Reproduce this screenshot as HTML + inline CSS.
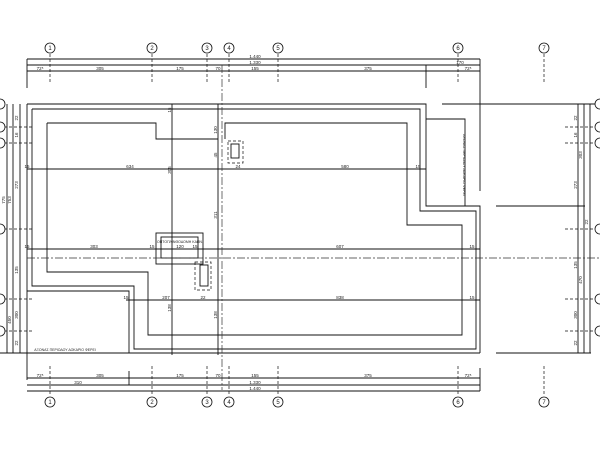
<!DOCTYPE html>
<html><head><style>body{margin:0;background:#fff}svg{display:block}text{font-family:"Liberation Sans",sans-serif;fill:#222}</style></head><body>
<svg width="600" height="450" viewBox="0 0 600 450" xmlns="http://www.w3.org/2000/svg">
<g stroke="#111" stroke-width="0.9" fill="none">
<!-- top dims -->
<line x1="27" y1="59" x2="480" y2="59"/><line x1="27" y1="65" x2="480" y2="65"/><line x1="27" y1="71" x2="480" y2="71"/>
<line x1="27" y1="59" x2="27" y2="88"/><line x1="426" y1="65" x2="426" y2="88"/><line x1="480" y1="59" x2="480" y2="191"/>
<!-- bottom dims -->
<line x1="27" y1="378" x2="480" y2="378"/><line x1="27" y1="385" x2="480" y2="385"/><line x1="27" y1="391" x2="480" y2="391"/>
<line x1="129" y1="371" x2="129" y2="385"/><line x1="480" y1="368" x2="480" y2="391"/>
<!-- outlines -->
<polyline points="27,104 426,104 426,206 480,206 480,353"/>
<polyline points="32,109 32,286 134,286 134,349 476,349 476,211 420,211 420,109 32,109"/>
<polyline points="47,123 156,123 156,139 218,139"/>
<polyline points="225,139 225,123 407,123 407,225 462,225 462,335 148,335 148,272 47,272 47,123"/>
<polyline points="27,291 129,291 129,353"/>
<line x1="0" y1="353" x2="480" y2="353"/>
<polyline points="426,119 465,119 465,206"/>
<line x1="442" y1="104" x2="597" y2="104"/>
<line x1="496" y1="206" x2="585" y2="206"/><line x1="496" y1="353" x2="591" y2="353"/>
<line x1="578" y1="104" x2="578" y2="353"/><line x1="584" y1="104" x2="584" y2="353"/><line x1="590" y1="104" x2="590" y2="353"/>
<!-- left dim lines -->
<line x1="7" y1="104" x2="7" y2="353"/><line x1="13" y1="104" x2="13" y2="353"/><line x1="20" y1="104" x2="20" y2="353"/><line x1="27" y1="104" x2="27" y2="380"/>
<!-- inner dims -->
<line x1="27" y1="169" x2="426" y2="169"/><line x1="27" y1="249" x2="480" y2="249"/><line x1="126" y1="300" x2="480" y2="300"/>
<line x1="172" y1="104" x2="172" y2="355"/><line x1="218" y1="104" x2="218" y2="355"/>
<!-- boxes -->
<rect x="156" y="233" width="47" height="31"/><rect x="161" y="237" width="37" height="21"/>
<rect x="200" y="265" width="8" height="21"/><rect x="231" y="144" width="8" height="14"/>
</g>
<g stroke="#111" stroke-width="0.7" fill="none" stroke-dasharray="3,2">
<rect x="195" y="262" width="16" height="28"/><rect x="228" y="141" width="15" height="22"/>
<line x1="50" y1="54" x2="50" y2="83"/><line x1="152" y1="54" x2="152" y2="83"/><line x1="207" y1="54" x2="207" y2="83"/><line x1="229" y1="54" x2="229" y2="83"/><line x1="278" y1="54" x2="278" y2="83"/><line x1="458" y1="54" x2="458" y2="83"/><line x1="544" y1="54" x2="544" y2="83"/>
<line x1="50" y1="366" x2="50" y2="396"/><line x1="152" y1="366" x2="152" y2="396"/><line x1="207" y1="366" x2="207" y2="396"/><line x1="229" y1="366" x2="229" y2="396"/><line x1="278" y1="366" x2="278" y2="396"/><line x1="458" y1="366" x2="458" y2="396"/><line x1="544" y1="366" x2="544" y2="396"/>
<line x1="4" y1="127" x2="34" y2="127"/><line x1="4" y1="143" x2="34" y2="143"/><line x1="4" y1="229" x2="34" y2="229"/><line x1="4" y1="299" x2="34" y2="299"/><line x1="4" y1="331" x2="34" y2="331"/>
<line x1="565" y1="127" x2="596" y2="127"/><line x1="565" y1="143" x2="596" y2="143"/><line x1="565" y1="229" x2="596" y2="229"/><line x1="565" y1="299" x2="596" y2="299"/><line x1="565" y1="331" x2="596" y2="331"/>
</g>
<g stroke="#333" stroke-width="0.7" stroke-dasharray="8,2,2,2">
<line x1="27" y1="258" x2="600" y2="258"/><line x1="222" y1="65" x2="222" y2="390"/>
</g>
<g stroke="#111" stroke-width="0.8" fill="#fff">
<circle cx="50" cy="48" r="5"/><circle cx="152" cy="48" r="5"/><circle cx="207" cy="48" r="5"/><circle cx="229" cy="48" r="5"/><circle cx="278" cy="48" r="5"/><circle cx="458" cy="48" r="5"/><circle cx="544" cy="48" r="5"/>
<circle cx="50" cy="402" r="5"/><circle cx="152" cy="402" r="5"/><circle cx="207" cy="402" r="5"/><circle cx="229" cy="402" r="5"/><circle cx="278" cy="402" r="5"/><circle cx="458" cy="402" r="5"/><circle cx="544" cy="402" r="5"/>
<circle cx="0" cy="104" r="5"/><circle cx="0" cy="127" r="5"/><circle cx="0" cy="143" r="5"/><circle cx="0" cy="229" r="5"/><circle cx="0" cy="299" r="5"/><circle cx="0" cy="331" r="5"/>
<circle cx="600" cy="104" r="5"/><circle cx="600" cy="127" r="5"/><circle cx="600" cy="143" r="5"/><circle cx="600" cy="229" r="5"/><circle cx="600" cy="299" r="5"/><circle cx="600" cy="331" r="5"/>
</g>
<g font-size="6" text-anchor="middle">
<text x="50" y="50">1</text><text x="152" y="50">2</text><text x="207" y="50">3</text><text x="229" y="50">4</text><text x="278" y="50">5</text><text x="458" y="50">6</text><text x="544" y="50">7</text>
<text x="50" y="404">1</text><text x="152" y="404">2</text><text x="207" y="404">3</text><text x="229" y="404">4</text><text x="278" y="404">5</text><text x="458" y="404">6</text><text x="544" y="404">7</text>
</g>
<g font-size="4.5" text-anchor="middle">
<text x="255" y="58">1.440</text><text x="255" y="64">1.330</text><text x="255" y="70">155</text>
<text x="40" y="70">72⁵</text><text x="100" y="70">305</text><text x="180" y="70">175</text><text x="218" y="70">70</text><text x="368" y="70">375</text><text x="468" y="70">72⁵</text><text x="460" y="64">170</text>
<text x="40" y="377">72⁵</text><text x="100" y="377">305</text><text x="78" y="384">310</text><text x="180" y="377">175</text><text x="218" y="377">70</text><text x="255" y="377">155</text><text x="255" y="384">1.330</text><text x="255" y="390">1.440</text><text x="368" y="377">375</text><text x="468" y="377">72⁵</text>
<text x="130" y="168">634</text><text x="345" y="168">580</text><text x="27" y="168">15</text><text x="418" y="168">15</text><text x="238" y="168">24</text>
<text x="94" y="248">303</text><text x="340" y="248">607</text><text x="152" y="248">15</text><text x="180" y="248">120</text><text x="195" y="248">15</text><text x="27" y="248">15</text><text x="472" y="248">15</text>
<text x="166" y="299">207</text><text x="203" y="299">22</text><text x="340" y="299">838</text><text x="126" y="299">15</text><text x="472" y="299">15</text>
<text x="180" y="243" font-size="3.5">ΟΠΤΟΠΛΙΝΘΟΔΟΜΗ ΚΑΠΝ.</text>
<text x="65" y="351" font-size="3.5">ΑΞΟΝΑΣ ΠΕΡΙΟΔΟΥ ΔΟΚΑΡΙΟ ΦΕΡΕΙ</text>
</g>
<g font-size="4.5" text-anchor="middle">
<text transform="translate(18,118) rotate(-90)">22</text><text transform="translate(18,135) rotate(-90)">16</text><text transform="translate(18,185) rotate(-90)">273</text>
<text transform="translate(11,200) rotate(-90)">753</text><text transform="translate(5,200) rotate(-90)">775</text><text transform="translate(18,270) rotate(-90)">135</text>
<text transform="translate(18,315) rotate(-90)">300</text><text transform="translate(11,320) rotate(-90)">450</text><text transform="translate(18,343) rotate(-90)">22</text>
<text transform="translate(577,118) rotate(-90)">22</text><text transform="translate(577,135) rotate(-90)">16</text><text transform="translate(582,155) rotate(-90)">303</text><text transform="translate(577,185) rotate(-90)">273</text><text transform="translate(588,222) rotate(-90)">22</text><text transform="translate(577,265) rotate(-90)">135</text><text transform="translate(582,280) rotate(-90)">470</text><text transform="translate(577,315) rotate(-90)">300</text><text transform="translate(577,343) rotate(-90)">22</text>
<text transform="translate(171,110) rotate(-90)">15</text><text transform="translate(171,170) rotate(-90)">305</text><text transform="translate(217,130) rotate(-90)">130</text><text transform="translate(217,155) rotate(-90)">45</text><text transform="translate(217,215) rotate(-90)">311</text><text transform="translate(217,315) rotate(-90)">138</text><text transform="translate(171,308) rotate(-90)">138</text>
<text transform="translate(463,165) rotate(90)" font-size="3.5">ΑΞΟΝΑΣ ΠΕΡΙΟΔΟΥ ΔΟΚΑΡΙΟ ΦΕΡΕΙ</text>
</g>
</svg>
</body></html>
